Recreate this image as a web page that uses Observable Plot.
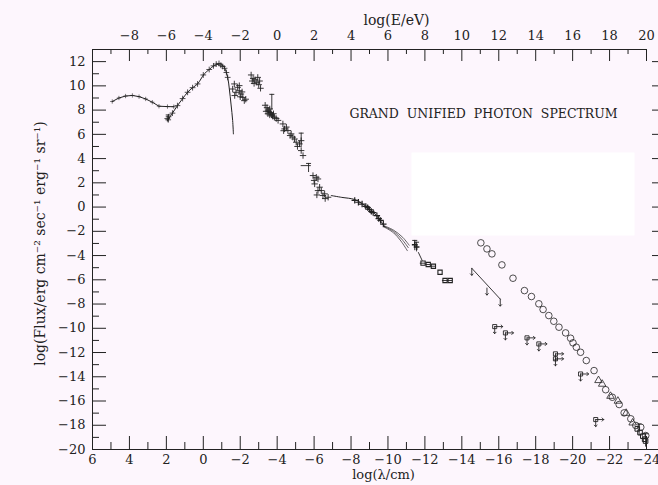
<!DOCTYPE html>
<html>
<head>
<meta charset="utf-8">
<script src="https://cdn.jsdelivr.net/npm/d3@7"></script>
<script src="https://cdn.jsdelivr.net/npm/@observablehq/plot@0.6"></script>
<style>
  html, body { margin: 0; padding: 0; background: #fdf6fd; }
  #chart { width: 658px; height: 485px; }
</style>
</head>
<body>
<div id="chart"></div>
<script>
// ---------- data: [log(lambda/cm), log(Flux)] ----------
const radio = [[4.93,8.71],[4.57,9.0],[4.21,9.16],[3.84,9.21],[3.48,9.11],[3.12,8.92],[2.76,8.65],[2.40,8.32],[1.94,8.29],[1.60,8.28]];
const cmb = [[1.94,7.13],[1.67,7.75],[1.40,8.37],[1.12,8.95],[0.85,9.47],[0.58,9.85],[0.31,10.16],[-0.05,10.98],[-0.32,11.35],[-0.59,11.67],[-0.86,11.8],[-1.0,11.75],[-1.14,11.53],[-1.32,10.7],[-1.41,9.74],[-1.5,8.5],[-1.59,7.13],[-1.63,6.04]];
const cmbPoints = [[1.95,7.3],[1.88,7.45],[1.9,7.2],[1.67,7.75],[1.40,8.37],[1.12,8.95],[0.85,9.47],[0.58,9.85],[0.31,10.16],[0.0,10.9],[-0.32,11.35],[-0.55,11.65],[-0.7,11.8],[-0.85,11.85],[-0.95,11.7],[-1.05,11.6],[-1.15,11.45],[-1.25,11.1],[-1.32,10.7]];
const infrared1 = [[-1.68,10.16],[-1.86,9.88],[-1.95,9.6],[-1.77,9.47],[-2.04,9.33],[-2.14,9.05],[-2.22,8.78],[-1.95,10.02],[-1.59,9.74],[-2.1,9.5],[-2.3,8.9],[-1.7,9.2],[-2.0,9.1]];
const infrared2 = [[-2.59,10.9],[-2.7,10.6],[-2.8,10.5],[-2.9,10.3],[-3.0,10.1],[-3.1,9.8],[-2.75,10.2],[-2.95,10.7],[-2.65,10.4],[-3.05,10.4]];
const optical = [[-3.35,8.4],[-3.45,8.2],[-3.5,8.0],[-3.55,7.9],[-3.6,8.1],[-3.65,7.8],[-3.7,7.6],[-3.75,7.5],[-3.85,7.4],[-3.95,7.3],[-4.05,7.15],[-3.4,7.9],[-3.6,7.6],[-3.5,7.7],[-3.8,7.7]];
const ultraviolet = [[-4.31,6.86],[-4.40,6.45],[-4.58,6.31],[-4.76,6.04],[-4.85,5.77],[-4.94,5.62],[-5.03,5.35],[-5.21,5.21],[-5.3,5.48],[-5.3,4.66],[-5.40,4.25],[-4.5,6.6],[-4.7,5.9],[-5.1,5.0],[-4.35,6.3]];
const softXray = [[-5.94,2.6],[-6.12,2.46],[-6.21,2.32],[-6.03,1.91],[-6.3,1.64],[-6.39,1.36],[-6.57,1.09],[-6.76,0.81],[-6.21,1.36],[-6.48,0.95],[-6.0,2.2],[-6.15,1.0],[-6.6,0.7]];
const xrayLine = [[-6.93,0.95],[-7.5,0.8],[-8.2,0.62],[-8.75,0.12],[-9.29,-0.56],[-9.65,-1.25],[-9.83,-1.65]];
const xrayPoints = [[-8.2,0.55],[-8.4,0.4],[-8.6,0.25],[-8.8,0.05],[-9.0,-0.2],[-9.2,-0.45],[-9.4,-0.7],[-9.6,-1.1],[-9.75,-1.4],[-8.9,-0.05],[-9.1,-0.35],[-9.5,-0.95]];
const fanA = [[-9.8,-1.55],[-10.3,-1.9],[-10.8,-2.5],[-11.15,-3.15]];
const fanB = [[-9.8,-1.6],[-10.3,-2.0],[-10.75,-2.65],[-11.1,-3.35]];
const fanC = [[-9.8,-1.65],[-10.3,-2.12],[-10.7,-2.8],[-11.05,-3.6]];
const gammaBars = [[-11.45,-3.1],[-11.55,-3.3]];
const gammaSlope = [[-11.65,-3.75],[-11.85,-4.4]];
const gammaBoxes = [[-11.9,-4.63],[-12.18,-4.74],[-12.46,-4.88],[-12.82,-5.38],[-13.09,-6.06],[-13.37,-6.06]];
const egretLine = [[-14.54,-5.05],[-16.08,-7.59]];
const egretLimits = [[-14.54,-5.05],[-15.36,-6.68],[-16.08,-7.59]];
const circles = [[-15.03,-2.95],[-15.36,-3.45],[-15.63,-3.86],[-16.17,-4.77],[-16.77,-5.87],[-17.39,-6.89],[-17.77,-7.38],[-18.17,-7.98],[-18.4,-8.45],[-18.71,-8.95],[-18.98,-9.42],[-19.26,-9.91],[-19.62,-10.38],[-19.89,-10.82],[-20.02,-11.2],[-20.2,-11.56],[-20.43,-11.98],[-20.74,-12.66],[-21.16,-13.49],[-21.79,-15.07],[-22.15,-15.69],[-22.52,-16.29],[-22.79,-16.98],[-23.15,-17.47],[-23.42,-18.02],[-23.69,-18.16],[-23.96,-18.85]];
const triangles = [[-21.4,-14.3],[-21.6,-14.6],[-22.05,-15.6],[-22.45,-16.0],[-22.9,-17.0],[-23.25,-17.8]];
const endBoxes = [[-23.5,-18.3],[-23.65,-18.6],[-23.8,-18.9],[-23.9,-19.15],[-23.95,-19.3]];
const upperLimits = [[-15.78,-9.86],[-16.36,-10.38],[-17.53,-10.79],[-18.17,-11.29],[-19.07,-12.11],[-19.07,-12.52],[-20.43,-13.77],[-21.25,-17.53]];
// vertical error bars: [lambda, low, high]
const errorV = [[-3.71,8.0,9.3],[-5.3,4.9,6.1],[-5.7,2.85,3.6],[-11.45,-3.6,-2.75],[-11.55,-3.7,-2.9],[-23.6,-18.9,-17.9],[-23.95,-19.8,-18.7],[1.9,7.0,7.6]];
// horizontal error bars: [flux, lambda1, lambda2]
const errorH = [[3.42,-5.3,-5.85],[-4.63,-11.75,-12.05],[-4.74,-12.05,-12.3],[-4.88,-12.3,-12.6],[-6.06,-12.95,-13.5]];

// ---------- axes ----------
const xMajor = d3.range(6, -24.5, -2);
const xMinor = d3.range(5, -24, -2);
const yMajor = d3.range(12, -20.5, -2);
const yMinor = d3.range(11, -20, -2);
const eLabels = d3.range(-8, 20.5, 2);
const eMajor = d3.range(-10, 20.5, 2);
const eMinor = d3.range(-9, 20, 2);
const lamOfE = e => -4 - e;

const titleText = "GRAND\u00a0\u00a0UNIFIED\u00a0\u00a0PHOTON\u00a0\u00a0SPECTRUM";
const yLabel = "log(Flux/erg cm\u207b\u00b2 sec\u207b\u00b9 erg\u207b\u00b9 sr\u207b\u00b9)";
const xLabel = "log(\u03bb/cm)";
const topLabel = "log(E/eV)";

const W = 658, H = 485, mL = 92, mR = 12, mT = 49, mB = 36;
const FW = W - mL - mR, FH = H - mT - mB;
const P = arr => arr.map(([lam, flux]) => ({lam, flux}));
const fmt = d => { const r = Math.round(d * 100) / 100; return (r < 0 ? "\u2212" : "") + Math.abs(r); };
const ink = "#222";
const hbar = {draw(ctx, size) { const r = Math.sqrt(size / Math.PI); ctx.moveTo(-r, 0); ctx.lineTo(r, 0); }};

const chart = Plot.plot({
  width: W, height: H,
  marginLeft: mL, marginRight: mR, marginTop: mT, marginBottom: mB,
  x: {domain: [6, -24]},
  y: {domain: [-20, 13]},
  style: {background: "#fdf6fd", fontFamily: "DejaVu Serif", fontSize: "13px", color: ink},
  marks: [
    // blank mask panel
    Plot.frame({fill: "white", stroke: "none", insetLeft: 319, insetRight: 12, insetTop: 103, insetBottom: 214}),
    // frame lines
    Plot.ruleX([6], {stroke: ink}),
    Plot.ruleY([13], {stroke: ink}),
    Plot.ruleY([-20], {stroke: ink, insetRight: -12}),
    // ticks
    Plot.tickX(xMajor, {x: d => d, insetTop: FH - 13, stroke: ink}),
    Plot.tickX(xMinor, {x: d => d, insetTop: FH - 7, stroke: ink}),
    Plot.tickX(eMajor.map(lamOfE), {x: d => d, insetBottom: FH - 12, stroke: ink}),
    Plot.tickX(eMinor.map(lamOfE), {x: d => d, insetBottom: FH - 5, stroke: ink}),
    Plot.tickY(yMajor, {y: d => d, insetRight: FW - 14, stroke: ink}),
    Plot.tickY(yMinor, {y: d => d, insetRight: FW - 7, stroke: ink}),
    Plot.tickY(yMajor, {y: d => d, insetLeft: FW + 6, insetRight: -12, stroke: ink}),
    // tick labels
    Plot.axisX({anchor: "bottom", ticks: xMajor, tickSize: 0, tickPadding: 5, tickFormat: fmt, label: null}),
    Plot.axisX({anchor: "top", ticks: eLabels.map(lamOfE), tickSize: 0, tickPadding: 10, tickFormat: d => fmt(-4 - d), label: null}),
    Plot.axisY({anchor: "left", ticks: yMajor, tickSize: 0, tickPadding: 7, tickFormat: fmt, label: null}),
    // axis titles
    Plot.text([topLabel], {text: d => d, frameAnchor: "top", dx: 27, dy: -34, fontSize: 14}),
    Plot.text([xLabel], {text: d => d, frameAnchor: "bottom", dx: 14, dy: 29, fontSize: 13}),
    Plot.text([yLabel], {text: d => d, frameAnchor: "left", textAnchor: "middle", rotate: -90, dx: -52, dy: -6, fontSize: 14}),
    Plot.text([titleText], {text: d => d, frameAnchor: "top-left", textAnchor: "middle", dx: 483 - mL, dy: 109 - mT, fontSize: 12.5}),
    // curves
    Plot.line(P(radio), {x: "lam", y: "flux", stroke: ink, strokeWidth: 1}),
    Plot.dot(P(radio), {x: "lam", y: "flux", symbol: "plus", r: 1.5, stroke: ink, strokeWidth: 0.6}),
    Plot.line(P(cmb), {x: "lam", y: "flux", stroke: ink, strokeWidth: 1, curve: "catmull-rom"}),
    Plot.dot(P(cmbPoints), {x: "lam", y: "flux", symbol: "plus", r: 2, stroke: ink, strokeWidth: 0.8}),
    Plot.dot(P(infrared1), {x: "lam", y: "flux", symbol: "plus", r: 2.2, stroke: ink, strokeWidth: 0.9}),
    Plot.dot(P(infrared2), {x: "lam", y: "flux", symbol: "plus", r: 2.2, stroke: ink, strokeWidth: 0.9}),
    Plot.dot(P(optical), {x: "lam", y: "flux", symbol: "plus", r: 2.2, stroke: ink, strokeWidth: 0.9}),
    Plot.dot(P(ultraviolet), {x: "lam", y: "flux", symbol: "plus", r: 2.2, stroke: ink, strokeWidth: 0.9}),
    Plot.dot(P(softXray), {x: "lam", y: "flux", symbol: "plus", r: 2.2, stroke: ink, strokeWidth: 0.9}),
    Plot.line(P(xrayLine), {x: "lam", y: "flux", stroke: ink, strokeWidth: 1, curve: "catmull-rom"}),
    Plot.dot(P(xrayPoints), {x: "lam", y: "flux", symbol: "plus", r: 2.2, stroke: ink, strokeWidth: 1.2}),
    Plot.line(P(fanA), {x: "lam", y: "flux", stroke: ink, strokeWidth: 0.7, curve: "catmull-rom"}),
    Plot.line(P(fanB), {x: "lam", y: "flux", stroke: ink, strokeWidth: 0.7, curve: "catmull-rom"}),
    Plot.line(P(fanC), {x: "lam", y: "flux", stroke: ink, strokeWidth: 0.7, curve: "catmull-rom"}),
    // error bars
    Plot.ruleX(errorV, {x: d => d[0], y1: d => d[1], y2: d => d[2], stroke: ink, strokeWidth: 0.9}),
    Plot.dot(errorV, {x: d => d[0], y: d => d[2], symbol: hbar, r: 2.5, stroke: ink, strokeWidth: 0.9}),
    Plot.ruleY(errorH, {y: d => d[0], x1: d => d[1], x2: d => d[2], stroke: ink, strokeWidth: 0.9}),
    // gamma rays
    Plot.dot(P(gammaBars), {x: "lam", y: "flux", symbol: "plus", r: 2, stroke: ink}),
    Plot.line(P(gammaSlope), {x: "lam", y: "flux", stroke: ink, strokeWidth: 0.9}),
    Plot.dot(P(gammaBoxes), {x: "lam", y: "flux", symbol: "square", r: 2.4, stroke: ink, strokeWidth: 1.1}),
    Plot.line(P(egretLine), {x: "lam", y: "flux", stroke: ink, strokeWidth: 0.9}),
    Plot.vector(P(egretLimits), {x: "lam", y: "flux", rotate: 180, length: 7, anchor: "start", stroke: ink, strokeWidth: 0.9}),
    Plot.dot(P(circles), {x: "lam", y: "flux", symbol: "circle", r: 3.3, stroke: ink, strokeWidth: 0.8}),
    Plot.dot(P(triangles), {x: "lam", y: "flux", symbol: "triangle", r: 2.8, stroke: ink, strokeWidth: 0.8}),
    Plot.dot(P(endBoxes), {x: "lam", y: "flux", symbol: "square", r: 2.6, stroke: ink, strokeWidth: 1}),
    Plot.dot(P(upperLimits), {x: "lam", y: "flux", symbol: "square", r: 2.3, stroke: ink, strokeWidth: 0.9}),
    Plot.vector(P(upperLimits), {x: "lam", y: "flux", rotate: 90, length: 8, anchor: "start", stroke: ink, strokeWidth: 0.9}),
    Plot.vector(P(upperLimits), {x: "lam", y: "flux", rotate: 180, length: 7, anchor: "start", stroke: ink, strokeWidth: 0.9})
  ]
});
document.getElementById("chart").appendChild(chart);
</script>
</body>
</html>
